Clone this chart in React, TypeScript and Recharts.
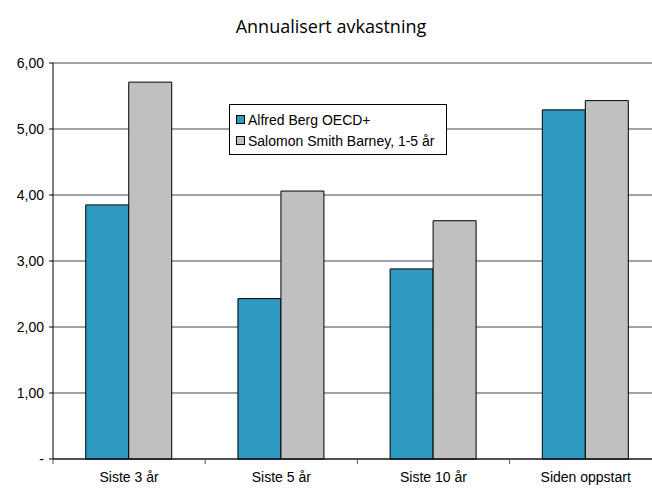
import { Bar, BarChart, CartesianGrid, XAxis, YAxis } from "recharts";

const CATEGORIES = ["Siste 3 år", "Siste 5 år", "Siste 10 år", "Siden oppstart"];
const ALFRED_BERG = [3.85, 2.43, 2.88, 5.29];
const SALOMON = [5.71, 4.06, 3.61, 5.43];
const Y_TICKS = [0, 1, 2, 3, 4, 5, 6];

const SERIES = [
  { key: "alfred", label: "Alfred Berg OECD+", color: "#2E99C0" },
  { key: "salomon", label: "Salomon Smith Barney, 1-5 år", color: "#C0C0C0" },
];

// the original chart is wider than the picture and is cut off on the right
const W = 652;
const H = 492;
const CHART_W = 670;
const Y_AXIS_W = 53;
const BAND = 152.2;
const MARGIN = { top: 63, right: CHART_W - Y_AXIS_W - BAND * 4, left: 0, bottom: 0 };
const FONT = "'Liberation Sans', Arial, sans-serif";

const rows = CATEGORIES.map((name, i) => ({
  name,
  alfred: ALFRED_BERG[i],
  salomon: SALOMON[i],
}));

function formatTick(value: number) {
  if (value === 0) return "-";
  return value.toFixed(2).replace(".", ",");
}

function CategoryTick(props: any) {
  const { x, y, payload } = props;
  const left = x - BAND / 2;
  return (
    <g>
      <line x1={left} x2={left} y1={y - 8} y2={y - 3} stroke="#555" />
      <text x={x} y={y + 15} textAnchor="middle" fontSize={14} fontFamily={FONT} fill="#000">
        {payload.value}
      </text>
    </g>
  );
}

function LegendBox() {
  return (
    <div
      style={{
        position: "absolute",
        left: 229,
        top: 104,
        width: 218,
        height: 51,
        border: "1px solid #000",
        background: "#fff",
        boxSizing: "border-box",
        fontFamily: FONT,
        fontSize: 14,
        padding: "4px 0 0 6px",
      }}
    >
      {SERIES.map((s) => (
        <div key={s.key} style={{ display: "flex", alignItems: "center", height: 21 }}>
          <span
            style={{
              width: 7,
              height: 7,
              background: s.color,
              border: "1px solid #000",
              marginRight: 3,
              display: "inline-block",
            }}
          />
          <span>{s.label}</span>
        </div>
      ))}
    </div>
  );
}

export default function App() {
  return (
    <div
      style={{
        position: "absolute",
        left: 0,
        top: 0,
        width: W,
        height: H,
        overflow: "hidden",
        background: "#fff",
      }}
    >
      <div
        style={{
          position: "absolute",
          top: 14,
          left: 0,
          width: W + 10,
          textAlign: "center",
          fontFamily: "'Open Sans', sans-serif",
          fontSize: 18,
          color: "#000",
        }}
      >
        Annualisert avkastning
      </div>
      <BarChart width={CHART_W} height={H} data={rows} margin={MARGIN} barCategoryGap="21.5%" barGap={0}>
        <CartesianGrid vertical={false} stroke="#444" />
        <XAxis
          dataKey="name"
          height={33}
          tickLine={false}
          axisLine={{ stroke: "#000" }}
          tick={<CategoryTick />}
          interval={0}
        />
        <YAxis
          width={Y_AXIS_W}
          domain={[0, 6]}
          ticks={Y_TICKS}
          tickFormatter={formatTick}
          tickSize={4}
          tickMargin={5}
          axisLine={{ stroke: "#000" }}
          tickLine={{ stroke: "#000" }}
          tick={{ fill: "#000", fontSize: 14, fontFamily: FONT }}
        />
        {SERIES.map((s) => (
          <Bar
            key={s.key}
            dataKey={s.key}
            name={s.label}
            fill={s.color}
            stroke="#000"
            strokeWidth={1}
            isAnimationActive={false}
          />
        ))}
      </BarChart>
      <LegendBox />
    </div>
  );
}
